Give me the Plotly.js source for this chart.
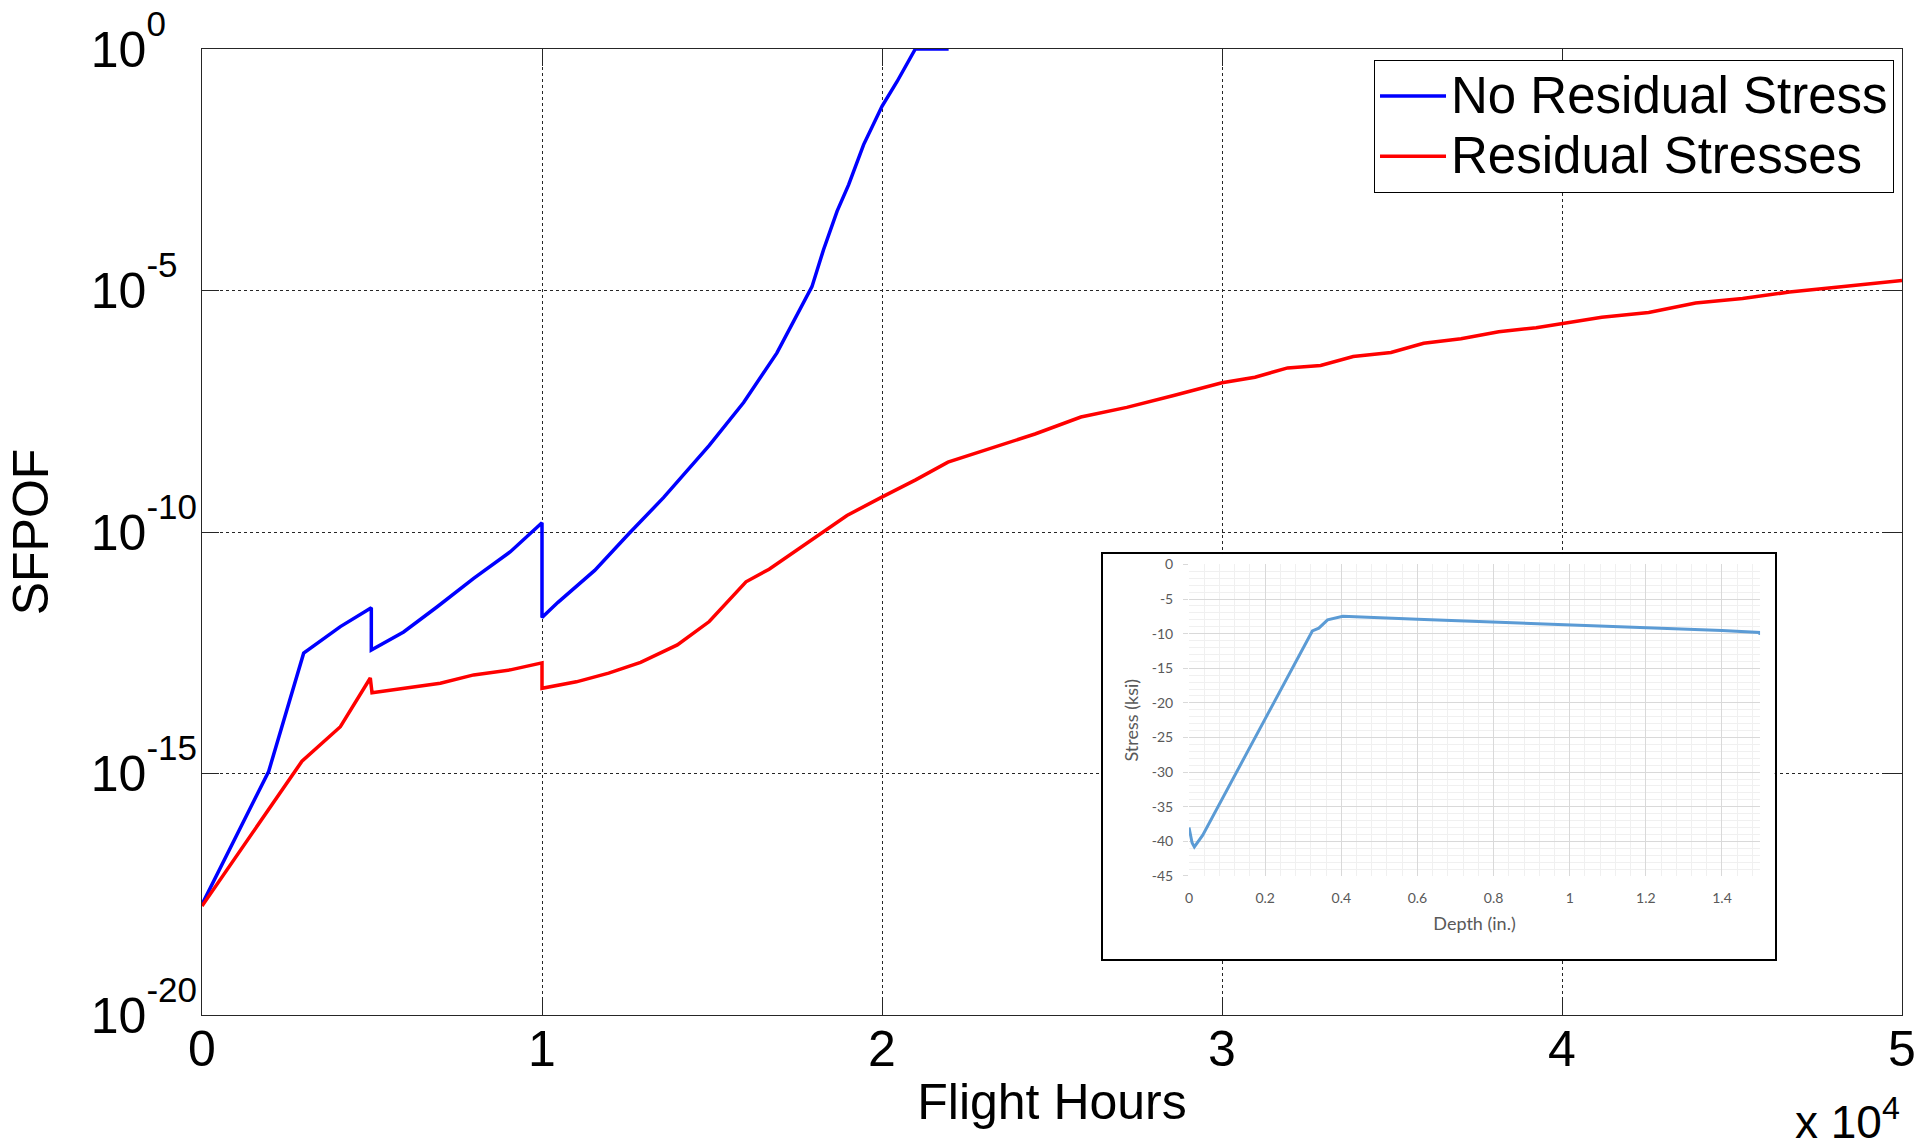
<!DOCTYPE html>
<html>
<head>
<meta charset="utf-8">
<script src="https://cdn.plot.ly/plotly-3.0.1.min.js"></script>
<style>html,body{margin:0;padding:0;background:#fff;}</style>
</head>
<body>
<div id="chart" style="width:1917px;height:1148px;"></div>
<script>
// ---- Main chart data ----
const noResHours = [0, 1960, 2990, 4070, 4980, 4980, 5930, 6910, 7990, 9070, 10000, 10000, 10470, 11550, 12560, 13580, 14920, 15930, 16910, 17500, 17940, 18280, 18680, 19020, 19460, 20000, 20440, 20980, 21960];
const noResSFPOF = [1.95e-18, 1.1e-15, 3.1e-13, 1.1e-12, 2.7e-12, 3.6e-13, 8.5e-13, 2.8e-12, 1.1e-11, 3.9e-11, 1.55e-10, 1.7e-12, 3.5e-12, 1.6e-11, 9.3e-11, 5.2e-10, 6.2e-9, 4.8e-8, 5.1e-7, 3.0e-6, 1.2e-5, 7.0e-5, 4.4e-4, 1.55e-3, 1.05e-2, 6.5e-2, 0.21, 1, 1];

const resHours = [0, 2940, 4070, 4950, 5000, 7010, 7990, 9070, 10000, 10000, 11010, 11960, 12900, 13980, 14920, 16000, 16680, 17490, 18300, 18970, 19980, 20990, 21940, 23150, 24500, 25850, 27200, 28550, 30000, 30970, 31930, 32900, 33860, 34970, 35930, 37030, 38140, 39240, 40000, 41170, 42550, 43930, 45310, 46690, 48070, 50000];
const resSFPOF = [1.8e-18, 1.8e-15, 9.3e-15, 9.5e-14, 4.7e-14, 7.4e-14, 1.1e-13, 1.4e-13, 1.95e-13, 5.8e-14, 7.9e-14, 1.2e-13, 2.0e-13, 4.6e-13, 1.4e-12, 9.3e-12, 1.7e-11, 4.2e-11, 1.07e-10, 2.2e-10, 5.2e-10, 1.2e-9, 2.8e-9, 5.2e-9, 1.07e-8, 2.4e-8, 3.8e-8, 6.6e-8, 1.23e-7, 1.6e-7, 2.5e-7, 2.8e-7, 4.3e-7, 5.2e-7, 8.1e-7, 1.0e-6, 1.4e-6, 1.7e-6, 2.1e-6, 2.8e-6, 3.5e-6, 5.5e-6, 6.8e-6, 9.3e-6, 1.17e-5, 1.62e-5];

const seriesNames = ['No Residual Stress', 'Residual Stresses'];

const xTickVals = [0, 10000, 20000, 30000, 40000, 50000];
const xTickText = ['0', '1', '2', '3', '4', '5'];
const yTickVals = [1, 1e-5, 1e-10, 1e-15, 1e-20];
const yTickExponents = ['0', '-5', '-10', '-15', '-20'];

// ---- Inset data ----
const depthIn = [0, 0.008, 0.014, 0.028, 0.036, 0.324, 0.341, 0.364, 0.398, 0.404, 0.6, 0.8, 1.0, 1.2, 1.4, 1.499, 1.5];
const stressKsi = [-38, -40.2, -40.8, -39.8, -39.1, -9.6, -9.2, -8.0, -7.5, -7.47, -7.9, -8.3, -8.7, -9.2, -9.55, -9.83, -10.16];
const insetXTickVals = [0, 0.2, 0.4, 0.6, 0.8, 1, 1.2, 1.4];
const insetXTickText = ['0', '0.2', '0.4', '0.6', '0.8', '1', '1.2', '1.4'];
const insetYTickVals = [0, -5, -10, -15, -20, -25, -30, -35, -40, -45];
const insetYTickText = ['0', '-5', '-10', '-15', '-20', '-25', '-30', '-35', '-40', '-45'];

const mainFont = 'Liberation Sans, Arial, sans-serif';
const insetFont = 'Lato, Open Sans, sans-serif';
const axisColor = '#262626';

// MATLAB-style labels: the "10" bases line up on the left, exponents stick out to the right.
// Shorter exponents get an invisible pad so every label has the same width.
const padFor = {1: '-0', 2: '0', 3: ''};
const yTickText = yTickExponents.map(e =>
  '10<sup><span style="baseline-shift:10px">' + e + '</span>' +
  (padFor[e.length] ? '<span style="color:rgba(0,0,0,0)">' + padFor[e.length] + '</span>' : '') + '</sup>');

// legend rows are spaced like a 44px font while the text itself is drawn at 51px
const legendLabel = s => '<span style="font-size:51px">' + s + '</span>';

const traces = [
  {x: noResHours, y: noResSFPOF, type: 'scatter', mode: 'lines', name: legendLabel(seriesNames[0]),
   line: {color: '#0000FF', width: 3.5}, xaxis: 'x', yaxis: 'y'},
  {x: resHours, y: resSFPOF, type: 'scatter', mode: 'lines', name: legendLabel(seriesNames[1]),
   line: {color: '#FF0000', width: 3.5}, xaxis: 'x', yaxis: 'y'},
  {x: [], y: [], type: 'scatter', mode: 'lines', showlegend: false, hoverinfo: 'skip', xaxis: 'x2', yaxis: 'y2'},
  {x: depthIn, y: stressKsi, type: 'scatter', mode: 'lines', showlegend: false,
   line: {color: '#5B9BD5', width: 3}, xaxis: 'x3', yaxis: 'y3'}
];

const layout = {
  width: 1917, height: 1148,
  margin: {l: 202, r: 15, t: 49, b: 133, pad: 0},
  paper_bgcolor: '#ffffff', plot_bgcolor: '#ffffff',
  font: {family: mainFont, color: '#000000'},
  showlegend: true,
  legend: {x: 0.9953, xanchor: 'right', y: 0.9886, yanchor: 'top',
           bgcolor: '#ffffff', bordercolor: '#000000', borderwidth: 1,
           font: {family: mainFont, size: 44, color: '#000000'}, itemwidth: 66},
  xaxis: {domain: [0, 1], range: [0, 50000], tickmode: 'array', tickvals: xTickVals, ticktext: xTickText,
          ticks: 'inside', ticklen: 17, tickwidth: 1, tickcolor: axisColor, ticklabelstandoff: -10,
          showline: true, linecolor: axisColor, linewidth: 1, mirror: 'ticks',
          showgrid: true, gridcolor: axisColor, gridwidth: 1, griddash: 'dot', zeroline: false,
          tickfont: {family: mainFont, size: 50, color: '#000000'},
          title: {text: 'Flight Hours', font: {family: mainFont, size: 50, color: '#000000'}, standoff: 7},
          fixedrange: true},
  yaxis: {domain: [0, 1], type: 'log', range: [-20, 0], tickmode: 'array', tickvals: yTickVals, ticktext: yTickText,
          ticks: 'inside', ticklen: 17, tickwidth: 1, tickcolor: axisColor, ticklabelstandoff: -6,
          showline: true, linecolor: axisColor, linewidth: 1, mirror: 'ticks',
          showgrid: true, gridcolor: axisColor, gridwidth: 1, griddash: 'dot', zeroline: false,
          tickfont: {family: mainFont, size: 50, color: '#000000'},
          title: {text: 'SFPOF', font: {family: mainFont, size: 50, color: '#000000'}, standoff: 26},
          fixedrange: true},
  xaxis2: {domain: [0.5298, 0.9251], anchor: 'y2', range: [0, 1], showline: true, mirror: true,
           linecolor: '#000000', linewidth: 2, showgrid: false, zeroline: false, showticklabels: false,
           ticks: '', fixedrange: true},
  yaxis2: {domain: [0.0583, 0.4772], anchor: 'x2', range: [0, 1], showline: true, mirror: true,
           linecolor: '#000000', linewidth: 2, showgrid: false, zeroline: false, showticklabels: false,
           ticks: '', fixedrange: true},
  xaxis3: {domain: [0.5806, 0.9165], anchor: 'y3', range: [0, 1.5], tickmode: 'array',
           tickvals: insetXTickVals, ticktext: insetXTickText,
           ticks: '', showline: false, zeroline: false, ticklabelstandoff: 12,
           showgrid: true, gridcolor: '#d9d9d9', gridwidth: 1,
           minor: {tickmode: 'linear', tick0: 0, dtick: 0.04, showgrid: true, gridcolor: '#f0f0f0', gridwidth: 1, ticks: ''},
           tickfont: {family: insetFont, size: 14, color: '#595959'},
           title: {text: 'Depth (in.)', font: {family: insetFont, size: 18, color: '#595959'}, standoff: 12},
           fixedrange: true},
  yaxis3: {domain: [0.1439, 0.4664], anchor: 'x3', range: [-45, 0], tickmode: 'array',
           tickvals: insetYTickVals, ticktext: insetYTickText,
           ticks: 'outside', ticklen: 5, tickcolor: '#d9d9d9', showline: false, zeroline: false, ticklabelstandoff: 7,
           showgrid: true, gridcolor: '#d9d9d9', gridwidth: 1,
           minor: {tickmode: 'linear', tick0: 0, dtick: 1, showgrid: true, gridcolor: '#f0f0f0', gridwidth: 1, ticks: ''},
           tickfont: {family: insetFont, size: 14, color: '#595959'},
           title: {text: 'Stress (ksi)', font: {family: insetFont, size: 18, color: '#595959'}, standoff: 8},
           fixedrange: true},
  annotations: [
    {text: 'x 10<sup>4</sup>', xref: 'paper', yref: 'paper', x: 1, y: -0.1075, xanchor: 'right', yanchor: 'middle',
     showarrow: false, font: {family: mainFont, size: 46, color: '#000000'}}
  ]
};

Plotly.newPlot('chart', traces, layout, {displayModeBar: false, staticPlot: true});
</script>
</body>
</html>
